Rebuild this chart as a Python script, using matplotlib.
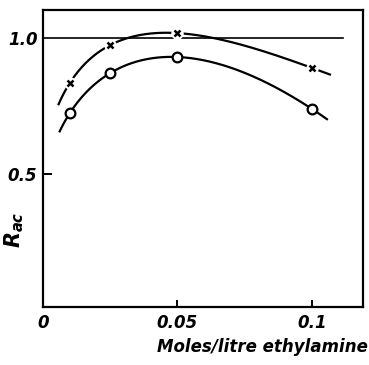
import numpy as np
import matplotlib
matplotlib.use("Agg")
import matplotlib.pyplot as plt

plt.rcParams['mathtext.fontset'] = 'custom'
plt.rcParams['mathtext.it'] = 'DejaVu Sans:italic:bold'
plt.rcParams['mathtext.rm'] = 'DejaVu Sans:italic:bold'

# Data (moles/litre ethylamine vs R_ac)
conc = [0.01, 0.025, 0.05, 0.10]
rac_cross = [0.835, 0.974, 1.018, 0.890]
rac_circle = [0.724, 0.871, 0.930, 0.739]
cross_range = [0.0058, 0.1067]
circle_range = [0.0062, 0.1056]
ref_level = 1.0
ref_range = [0.0, 0.1115]

xticks = [0, 0.05, 0.1]
xticklabels = ['0', '0.05', '0.1']
yticks = [0.5, 1.0]
yticklabels = ['0.5', '1.0']


def smooth_curve(xd, yd, rng, n=300, power=0.65):
    u = np.asarray(xd) ** power
    p = np.polyfit(u, yd, 3)
    xs = np.linspace(rng[0], rng[1], n)
    return xs, np.polyval(p, xs ** power)


fig = plt.figure(figsize=(3.69, 3.65), dpi=100)
ax = fig.add_axes([43/369, 58/365, 320/369, 297/365])
ax.set_xlim(0, 0.119)
ax.set_ylim(0.01, 1.103)

font = dict(family='DejaVu Sans', weight='bold', style='italic')

# reference line at 1.0
ax.plot(ref_range, [ref_level, ref_level], color='black', lw=1.2, zorder=1)

# crosses curve
xs, ys = smooth_curve(conc, rac_cross, cross_range)
ax.plot(xs, ys, color='black', lw=1.6, zorder=2)
ax.plot(conc, rac_cross, linestyle='none', marker='o', ms=9, mfc='white', mec='none', zorder=3)
ax.plot(conc, rac_cross, linestyle='none', marker='x', ms=5, mec='black', mew=1.8, zorder=4)

# circles curve
xs2, ys2 = smooth_curve(conc, rac_circle, circle_range)
ax.plot(xs2, ys2, color='black', lw=1.6, zorder=2)
ax.plot(conc, rac_circle, linestyle='none', marker='o', ms=7, mfc='white', mec='black', mew=1.6, zorder=4)

for s in ax.spines.values():
    s.set_linewidth(1.6)

ax.set_xticks(xticks)
ax.set_xticklabels(xticklabels, fontsize=12, **font)
ax.set_yticks(yticks)
ax.set_yticklabels(yticklabels, fontsize=12, **font)
ax.tick_params(axis='both', direction='in', length=5, width=1.4, pad=5)
ax.tick_params(axis='y', length=0, pad=4)
# small inward tick at 0.5 only
ax.plot([0, 0.003], [0.5, 0.5], color='black', lw=1.4, clip_on=False)
ax.xaxis.get_major_ticks()[0].tick1line.set_visible(False)

ax.set_ylabel(r'$R_{ac}$', fontsize=15)
ax.yaxis.set_label_coords(-0.052, 0.26)
fig.text(368/369, 1 - 347/365, 'Moles/litre ethylamine', ha='right', va='center',
         fontsize=12, **font)

fig.savefig('out.png', dpi=100)
